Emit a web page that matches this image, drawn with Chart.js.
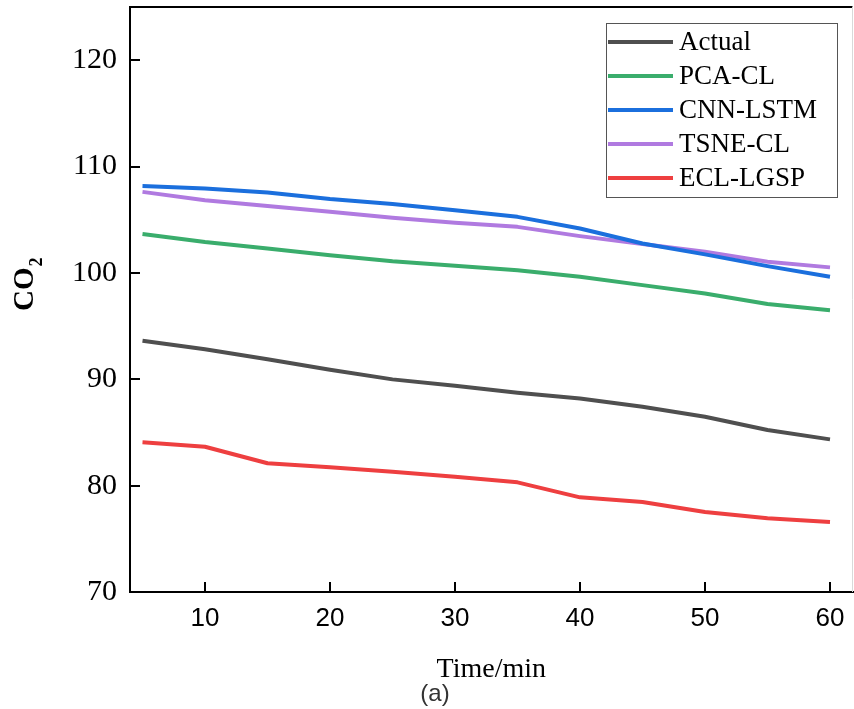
<!DOCTYPE html>
<html>
<head>
  <meta charset="UTF-8">
  <title>CO2 prediction</title>
  <script src="https://cdn.jsdelivr.net/npm/chart.js"></script>
  <style>
    body {
      margin: 0;
      background: #ffffff;
    }
    #wrap {
      width: 854px;
      height: 709px;
    }
  </style>
</head>
<body>
  <div id="wrap"><canvas id="co2Chart" width="854" height="709"></canvas></div>

  <script>
    // data
    const timeMin = [5, 10, 15, 20, 25, 30, 35, 40, 45, 50, 55, 60];
    const actual  = [93.62, 92.82, 91.88, 90.9, 89.99, 89.39, 88.73, 88.2, 87.42, 86.48, 85.23, 84.35];
    const pcaCl   = [103.65, 102.9, 102.3, 101.67, 101.1, 100.67, 100.26, 99.63, 98.85, 98.07, 97.07, 96.5];
    const cnnLstm = [108.16, 107.94, 107.57, 106.94, 106.47, 105.9, 105.27, 104.18, 102.77, 101.74, 100.64, 99.63];
    const tsneCl  = [107.62, 106.84, 106.3, 105.74, 105.18, 104.71, 104.33, 103.46, 102.71, 101.99, 101.04, 100.52];
    const eclLgsp = [84.07, 83.66, 82.1, 81.72, 81.3, 80.84, 80.31, 78.9, 78.46, 77.52, 76.93, 76.58];

    const xTicks = [10, 20, 30, 40, 50, 60];
    const yTicks = [70, 80, 90, 100, 110, 120];

    const serif = "'Liberation Serif', 'Times New Roman', serif";
    const sans = "'Liberation Sans', Arial, sans-serif";

    const series = [
      { label: 'Actual',   data: actual,  color: '#4f4f4f' },
      { label: 'PCA-CL',   data: pcaCl,   color: '#3aad6c' },
      { label: 'CNN-LSTM', data: cnnLstm, color: '#1b6fdd' },
      { label: 'TSNE-CL',  data: tsneCl,  color: '#b07ae0' },
      { label: 'ECL-LGSP', data: eclLgsp, color: '#ee3f40' }
    ];

    // frame, legend box, CO2 title and (a) caption
    const extras = {
      id: 'extras',
      afterDraw(chart) {
        const c = chart.ctx;
        const a = chart.chartArea;
        c.save();

        // top border + faint right border
        c.strokeStyle = '#000';
        c.lineWidth = 2;
        c.beginPath();
        c.moveTo(a.left - 1, a.top);
        c.lineTo(a.right, a.top);
        c.stroke();
        c.strokeStyle = '#d9d9d9';
        c.lineWidth = 1;
        c.beginPath();
        c.moveTo(a.right, a.top);
        c.lineTo(a.right, a.bottom);
        c.stroke();

        // legend
        c.fillStyle = '#fff';
        c.fillRect(606, 23, 231, 174);
        c.strokeStyle = '#555';
        c.lineWidth = 1;
        c.strokeRect(606.5, 23.5, 231, 174);
        c.font = '27px ' + serif;
        c.textBaseline = 'middle';
        c.textAlign = 'left';
        chart.data.datasets.forEach((ds, i) => {
          const y = 42 + i * 34;
          c.strokeStyle = ds.borderColor;
          c.lineWidth = 4;
          c.beginPath();
          c.moveTo(608, y);
          c.lineTo(673, y);
          c.stroke();
          c.fillStyle = '#000';
          c.fillText(ds.label, 679, y + 1);
        });

        // y title CO2 with subscript
        c.translate(33, 311);
        c.rotate(-Math.PI / 2);
        c.fillStyle = '#000';
        c.textBaseline = 'alphabetic';
        c.font = 'bold 29px ' + serif;
        c.fillText('CO', 0, 0);
        const w = c.measureText('CO').width;
        c.font = 'bold 18px ' + serif;
        c.fillText('2', w + 1, 9);
        c.setTransform(1, 0, 0, 1, 0, 0);

        // caption
        c.fillStyle = '#333';
        c.font = '24px ' + sans;
        c.textAlign = 'center';
        c.textBaseline = 'middle';
        c.fillText('(a)', 435, 694);
        c.restore();
      }
    };

    const ctx = document.getElementById('co2Chart').getContext('2d');
    new Chart(ctx, {
      type: 'line',
      data: {
        labels: timeMin,
        datasets: series.map(s => ({
          label: s.label,
          data: s.data.map((v, i) => ({ x: timeMin[i], y: v })),
          borderColor: s.color,
          backgroundColor: s.color,
          borderWidth: 4,
          pointRadius: 0,
          tension: 0,
          fill: false,
          borderJoinStyle: 'round'
        }))
      },
      options: {
        responsive: false,
        animation: false,
        layout: { padding: { top: 7, right: 1.5, left: 0, bottom: 0 } },
        plugins: {
          legend: { display: false },
          tooltip: { enabled: false }
        },
        scales: {
          x: {
            type: 'linear',
            min: 4,
            max: 61.8,
            afterBuildTicks: s => { s.ticks = xTicks.map(v => ({ value: v })); },
            afterFit: s => { s.height = 117; s.paddingLeft = 0; s.paddingRight = 0; },
            border: { color: '#000', width: 2 },
            grid: { drawOnChartArea: false, tickLength: -10, color: '#000', lineWidth: 2 },
            ticks: { color: '#000', padding: 21, maxRotation: 0, font: { family: sans, size: 26 } },
            title: {
              display: true,
              text: 'Time/min',
              color: '#000',
              font: { family: serif, size: 28 },
              padding: { top: 0, bottom: 23 }
            }
          },
          y: {
            min: 70,
            max: 125,
            afterBuildTicks: s => { s.ticks = yTicks.map(v => ({ value: v })); },
            afterFit: s => { s.width = 130; s.paddingTop = 0; s.paddingBottom = 0; },
            border: { color: '#000', width: 2 },
            grid: { drawOnChartArea: false, tickLength: -10, color: '#000', lineWidth: 2 },
            ticks: { color: '#000', padding: 23, font: { family: serif, size: 30 } }
          }
        }
      },
      plugins: [extras]
    });
  </script>
</body>
</html>
